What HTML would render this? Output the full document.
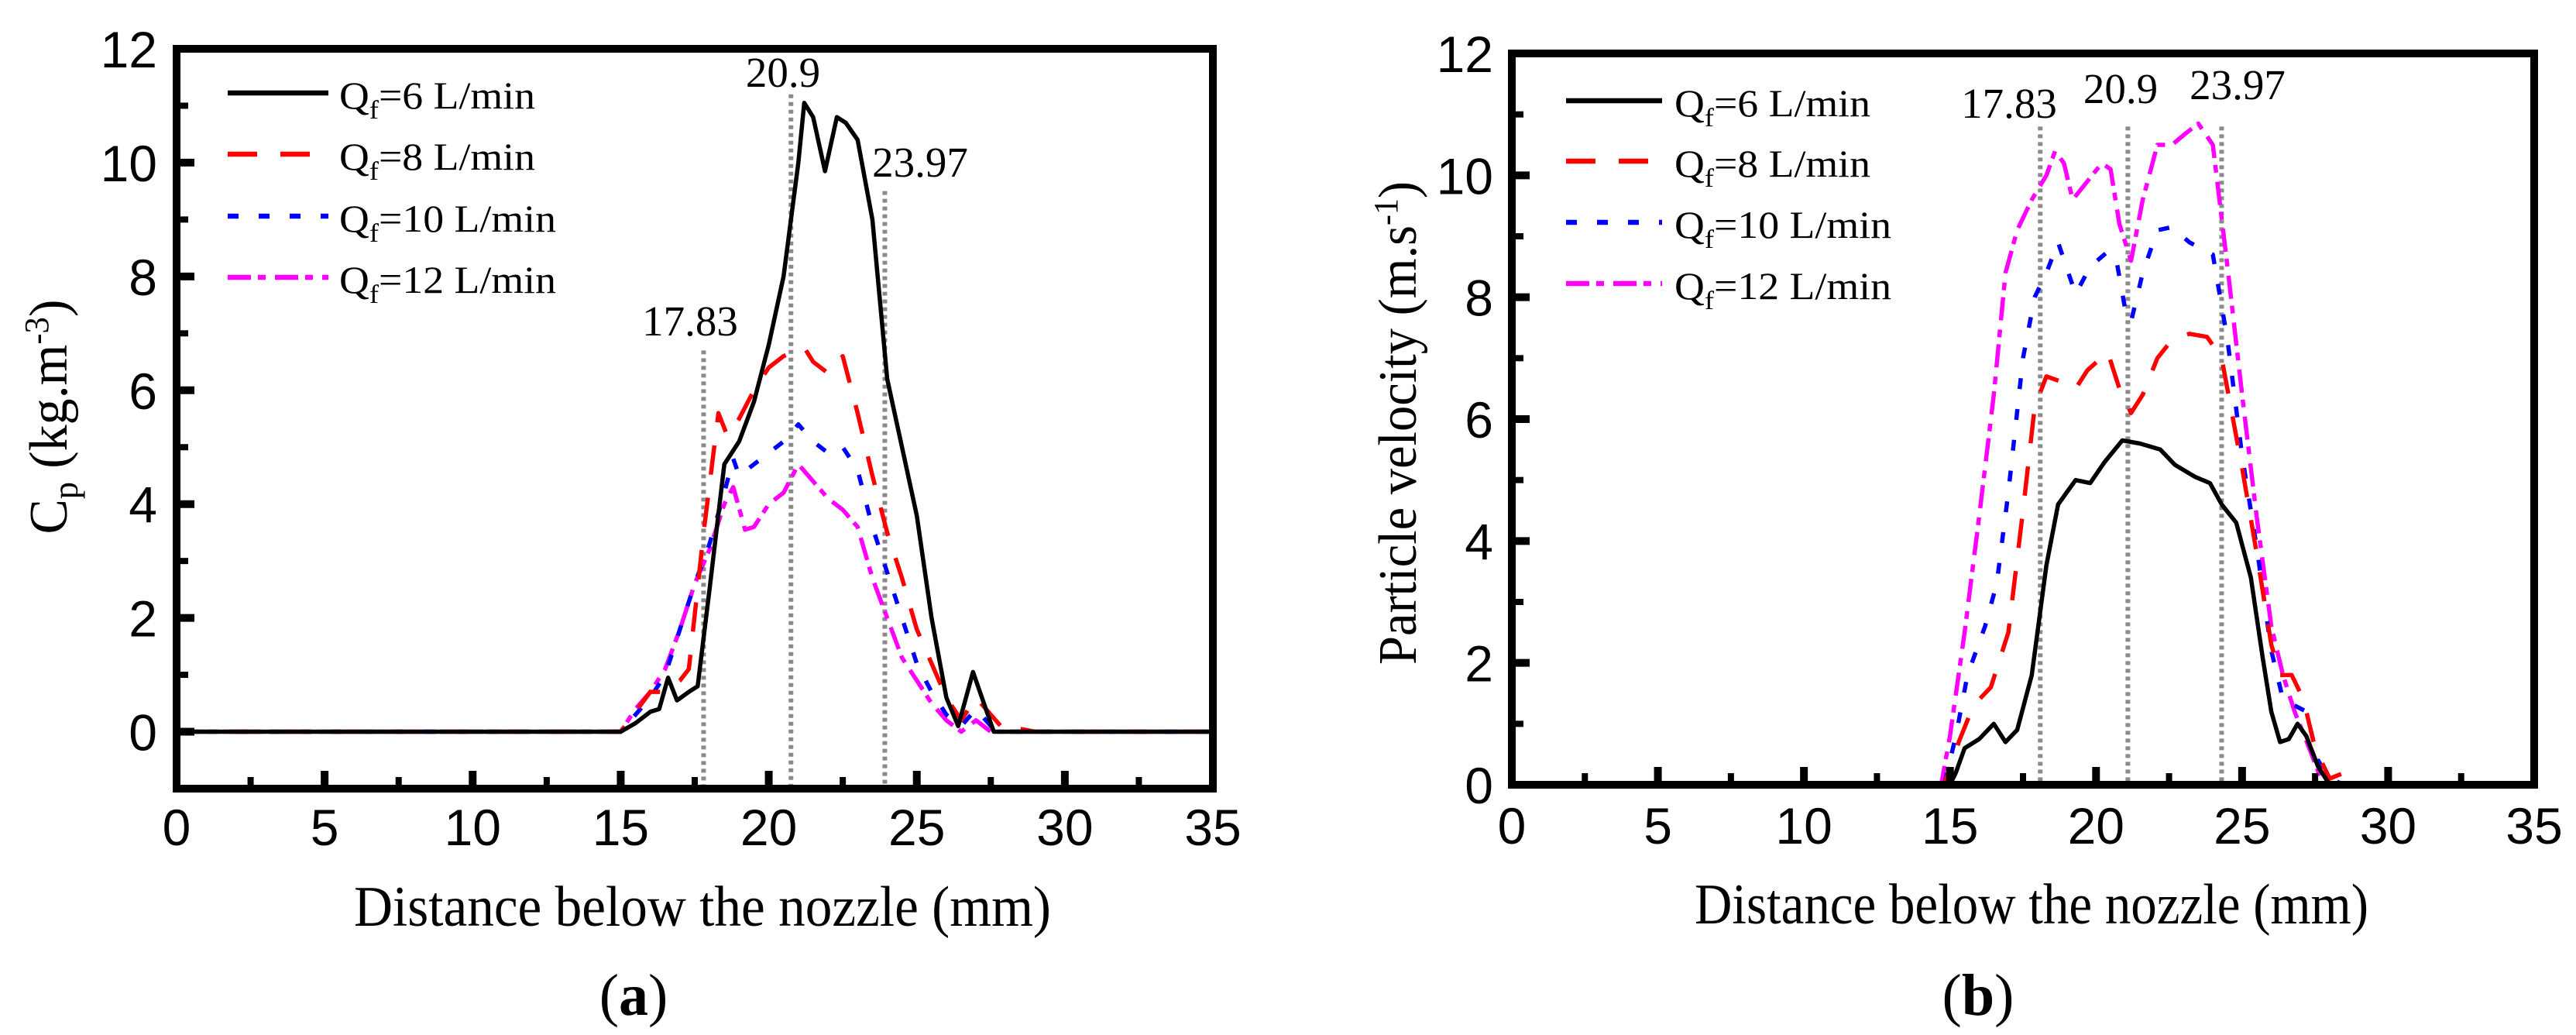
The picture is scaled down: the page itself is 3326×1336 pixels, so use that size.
<!DOCTYPE html>
<html><head><meta charset="utf-8"><style>
html,body{margin:0;padding:0;background:#fff;width:3326px;height:1336px;overflow:hidden}
svg{display:block}
.tick{font-family:"Liberation Sans",Arial,sans-serif;font-size:66px;fill:#000}
.ser{font-family:"Liberation Serif","Times New Roman",serif;fill:#000}
</style></head><body>
<svg id="fig" width="3326" height="1336" viewBox="0 0 3326 1336" xmlns="http://www.w3.org/2000/svg"></svg>
<script>
// ---------- Data: panel (a) concentration ----------
const aX6  = [0,15,15.5,16,16.3,16.6,16.9,17.3,17.6,18,18.5,19,19.5,20,20.5,21,21.2,21.5,21.9,22.3,22.6,23,23.5,24,24.5,25,25.5,26,26.4,26.9,27.2,27.6,35];
const aY6  = [0,0,0.15,0.35,0.4,0.95,0.55,0.7,0.8,2.5,4.7,5.1,5.8,6.8,8,10,11.05,10.8,9.85,10.8,10.7,10.4,9,6.2,5,3.8,2,0.6,0.1,1.05,0.6,0,0];
const aX8  = [0,15,16,16.5,17,17.3,17.8,18.3,18.6,19,19.5,20,20.5,21.2,21.5,22,22.5,23,23.5,24,24.5,25,25.5,26,26.5,27,27.5,28,28.5,29,35];
const aY8  = [0,0,0.7,0.7,0.9,1.1,3.5,5.6,5.2,5.5,6,6.4,6.6,6.75,6.5,6.3,6.6,5.6,4.5,3.5,2.7,1.8,1.2,0.6,0.2,0.6,0.3,0,0.05,0,0];
const aX10 = [0,15,16,16.5,17,17.5,18,18.5,18.8,19,19.5,20,20.5,21,21.5,22,22.5,23,23.5,24,24.5,25,25.5,26,26.5,27,27.5,28,35];
const aY10 = [0,0,0.6,1,1.8,2.6,3.3,4.2,4.8,4.5,4.7,4.9,5.1,5.4,5.1,4.9,5.0,4.6,3.6,2.8,2.0,1.2,0.7,0.3,0.1,0.4,0.1,0,0];
const aX12 = [0,15,15.5,16,16.5,17,17.5,18,18.5,18.8,19.2,19.5,20,20.5,21,21.5,22,22.5,23,23.5,24,24.5,25,25.5,26,26.5,27,27.5,35];
const aY12 = [0,0,0.4,0.7,1.1,1.8,2.6,3.2,4.0,4.3,3.55,3.6,4.0,4.2,4.7,4.4,4.1,3.9,3.6,2.7,2.0,1.3,0.9,0.5,0.2,0.0,0.2,0,0];
// ---------- Data: panel (b) velocity ----------
const bX6  = [0,15,15.2,15.5,16,16.5,16.9,17.3,17.8,18.3,18.7,19.3,19.8,20.3,20.9,21.5,22.2,22.7,23.4,23.9,24.3,24.8,25.3,25.7,26,26.3,26.6,26.9,27.2,27.6,28,35];
const bY6  = [0,0,0.2,0.6,0.75,1.0,0.7,0.9,1.8,3.6,4.6,5.0,4.95,5.3,5.65,5.6,5.5,5.25,5.05,4.95,4.6,4.3,3.4,2.1,1.2,0.7,0.75,1.0,0.8,0.3,0,0];
const bX8  = [0,14.8,15.3,15.8,16.4,17,17.5,17.9,18.3,18.9,19.3,19.7,20.4,20.8,21.2,21.6,22.1,22.6,23.2,23.8,24.3,25,25.5,26,26.3,26.7,27.1,27.5,28,28.5,29,35];
const bY8  = [0,0,0.7,1.3,1.6,2.5,4.5,6.2,6.7,6.6,6.5,6.8,7.1,6.5,6.1,6.4,7.0,7.3,7.4,7.35,7.0,5.2,3.8,2.3,1.8,1.8,1.4,0.6,0.1,0.2,0,0];
const bX10 = [0,14.8,15.2,15.6,16.2,16.6,17,17.5,17.9,18.3,18.7,19.3,19.8,20.4,20.7,21,21.2,21.6,22.1,22.6,23.2,24,24.5,25,25.5,26,26.4,26.8,27.2,27.6,28,28.5,35];
const bY10 = [0,0,0.8,1.8,2.6,3.3,4.8,7,8.0,8.4,8.9,8.05,8.5,8.75,8.6,7.8,7.6,8.4,9.1,9.15,8.9,8.7,7.3,5.4,3.9,2.2,1.4,1.3,1.2,0.4,0.1,0,0];
const bX12 = [0,14.7,15,15.5,16,16.5,16.9,17.3,17.8,18.3,18.6,18.9,19.2,19.7,20.2,20.5,20.8,21.2,21.6,22.1,22.6,23.1,23.5,24,24.5,25,25.5,26,26.4,26.8,27.3,27.7,28,35];
const bY12 = [0,0,0.8,2.5,4.4,6.4,8.4,9.1,9.6,10.0,10.4,10.2,9.6,9.9,10.2,10.1,9.2,8.6,9.6,10.5,10.5,10.7,10.85,10.5,8.5,6.4,4.4,2.6,1.8,1.2,0.6,0.1,0,0];
// ---------- ticks / labels ----------
const xTicks = [0,5,10,15,20,25,30,35];
const yTicks = [0,2,4,6,8,10,12];
const legendLabels = ["6","8","10","12"];
const markLabels = ["17.83","20.9","23.97"];
const aMarkX = [17.8,20.75,23.92];
const aMarkTop = [6.7,11.2,9.5];
const bMarkX = [18.09,21.09,24.3];
const bMarkTop = [10.8,10.8,10.8];

const NS="http://www.w3.org/2000/svg";
const svg=document.getElementById('fig');
function mk(tag,attrs,parent){const e=document.createElementNS(NS,tag);for(const k in attrs)e.setAttribute(k,attrs[k]);(parent||svg).appendChild(e);return e;}

const styles=[
 {c:"#000",d:""},
 {c:"#ff0000",d:"38 30"},
 {c:"#0000ff",d:"14 26"},
 {c:"#ff00ff",d:"30 9 10 12"}
];
const serNames=["series-qf6","series-qf8","series-qf10","series-qf12"];

function panel(p){
 const g=mk('g',{});
 
 
 const sx=v=>p.x0+(v-0)*(p.x1-p.x0)/35;
 const sy=v=>p.y0-(v-p.ymin)*(p.y0-p.y1)/(12-p.ymin);
 for(let i=0;i<3;i++){
  const l=mk('line',{x1:sx(p.markX[i]),x2:sx(p.markX[i]),y1:sy(p.markTop[i]),y2:p.y0,stroke:"#8a8a8a","stroke-width":6,"stroke-dasharray":"5 5"},g);
  
  
  const t=mk('text',{x:p.labPos[i][0],y:p.labPos[i][1],"text-anchor":"middle","font-size":55,class:"ser"},g);
  t.textContent=markLabels[i];
  
  
 }
 const order=[3,2,1,0];
 for(const s of order){
  const pts=p.xs[s].map((x,i)=>sx(x).toFixed(1)+","+sy(p.ys[s][i]).toFixed(1)).join(" ");
  const pl=mk('polyline',{points:pts,fill:"none",stroke:styles[s].c,"stroke-width":5.5,"stroke-linejoin":"round","stroke-dasharray":styles[s].d},g);
  
  
 }
 const fr=mk('rect',{x:p.x0,y:p.y1,width:p.x1-p.x0,height:p.y0-p.y1,fill:"none",stroke:"#000","stroke-width":10},g);
 
 
 for(let v=0;v<=35;v+=2.5){
  const major=(v%5===0);
  const len=major?18:10;
  if(v>0&&v<35){const tk=mk('line',{x1:sx(v),x2:sx(v),y1:p.y0,y2:p.y0-len-5,stroke:"#000","stroke-width":major?10:8},g);
  
  }
 }
 xTicks.forEach(v=>{const t=mk('text',{x:sx(v),y:p.xlabY,"text-anchor":"middle",class:"tick"},g);t.textContent=v;
  
  });
 for(let v=Math.ceil(p.ymin);v<=12;v+=1){
  if(v===p.ymin||v===12)continue;
  const major=(v%2===0);
  const tk=mk('line',{x1:p.x0,x2:p.x0+(major?23:15),y1:sy(v),y2:sy(v),stroke:"#000","stroke-width":major?10:8},g);
  
  
 }
 yTicks.forEach(v=>{const t=mk('text',{x:p.ylabX,y:sy(v)+24,"text-anchor":"end",class:"tick"},g);t.textContent=v;
  
  });
 for(let i=0;i<4;i++){
  const y=p.leg.y[i];
  const ll=mk('line',{x1:p.leg.x1,x2:p.leg.x2,y1:y,y2:y,stroke:styles[i].c,"stroke-width":6.5,"stroke-dasharray":styles[i].d},g);
  
  
  const t=mk('text',{x:p.leg.tx,y:y+20,"font-size":50,class:"ser",textLength:(i<2?253:280),lengthAdjust:"spacingAndGlyphs"},g);
  
  
  t.innerHTML='Q<tspan font-size="34" dy="13">f</tspan><tspan dy="-13">=</tspan>'+legendLabels[i]+' L/min';
 }
 const xt=mk('text',{x:p.xt[0],y:p.xt[1],"text-anchor":"middle","font-size":74,class:"ser",textLength:p.xt[2],lengthAdjust:"spacingAndGlyphs"},g);
 xt.textContent=p.xtitle;
 
 
 const yt=mk('text',{x:0,y:0,"text-anchor":"middle","font-size":70,class:"ser",textLength:p.yt[2],lengthAdjust:"spacingAndGlyphs",transform:`translate(${p.yt[0]},${p.yt[1]}) rotate(-90)`},g);
 yt.innerHTML=p.ytitle;
 
 
 const cap=mk('text',{x:p.cap[0],y:p.cap[1],"text-anchor":"middle","font-size":76,class:"ser"},g);
 cap.innerHTML='(<tspan font-weight="bold">'+p.capL+'</tspan>)';
 
 
}

panel({name:"panel-a-concentration",x0:228,x1:1566,y0:1018,y1:63,ymin:-1,
 xs:[aX6,aX8,aX10,aX12],ys:[aY6,aY8,aY10,aY12],markX:aMarkX,markTop:aMarkTop,
 labPos:[[891,433],[1011,112],[1188,228]],xlabY:1091,ylabX:203,
 leg:{x1:294,x2:424,tx:438,y:[120,199,279,358]},
 xt:[907,1195,900],xtitle:"Distance below the nozzle  (mm)",
 yt:[86,538,303],ytitle:'C<tspan font-size="46" dy="14">p</tspan><tspan dy="-14"> (kg.m</tspan><tspan font-size="44" dy="-24">-3</tspan><tspan dy="24">)</tspan>',
 cap:[818,1310],capL:"a"});
panel({name:"panel-b-velocity",x0:1952,x1:3272,y0:1013,y1:69,ymin:0,
 xs:[bX6,bX8,bX10,bX12],ys:[bY6,bY8,bY10,bY12],markX:bMarkX,markTop:bMarkTop,
 labPos:[[2594,152],[2738,133],[2889,128]],xlabY:1089,ylabX:1928,
 leg:{x1:2022,x2:2146,tx:2162,y:[130,208,287,366]},
 xt:[2623,1192,870],xtitle:"Distance below the nozzle (mm)",
 yt:[1828,546,624],ytitle:'Particle velocity (m.s<tspan font-size="44" dy="-24">-1</tspan><tspan dy="24">)</tspan>',
 cap:[2554,1310],capL:"b"});
</script>
</body></html>
